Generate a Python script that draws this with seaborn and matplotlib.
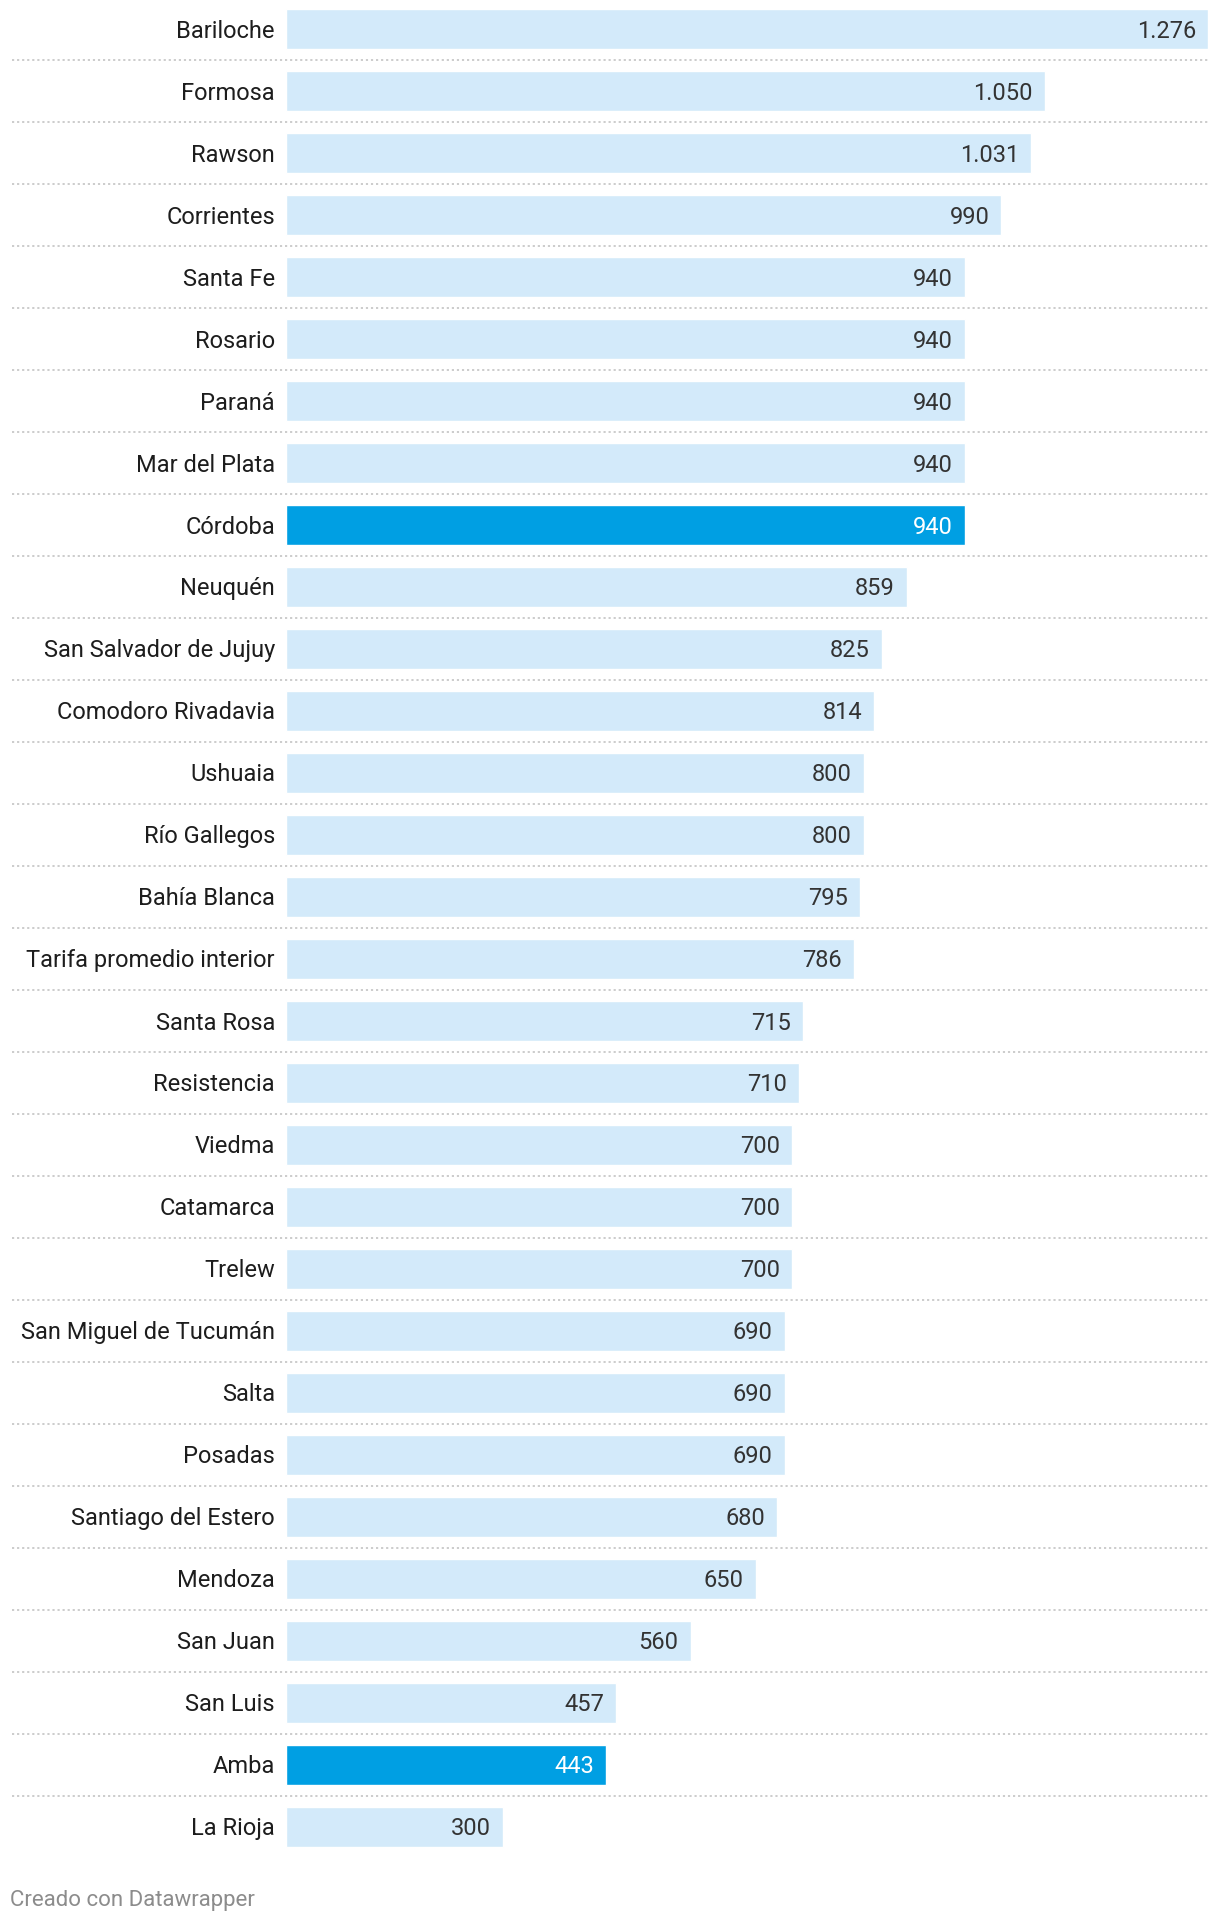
import matplotlib
matplotlib.use("Agg")
import matplotlib.pyplot as plt
import matplotlib.transforms as mtransforms
import seaborn as sns
import pandas as pd

cities = ["Bariloche", "Formosa", "Rawson", "Corrientes", "Santa Fe", "Rosario", "Paraná",
          "Mar del Plata", "Córdoba", "Neuquén", "San Salvador de Jujuy", "Comodoro Rivadavia",
          "Ushuaia", "Río Gallegos", "Bahía Blanca", "Tarifa promedio interior", "Santa Rosa",
          "Resistencia", "Viedma", "Catamarca", "Trelew", "San Miguel de Tucumán", "Salta",
          "Posadas", "Santiago del Estero", "Mendoza", "San Juan", "San Luis", "Amba", "La Rioja"]
values = [1276, 1050, 1031, 990, 940, 940, 940, 940, 940, 859, 825, 814, 800, 800, 795, 786,
          715, 710, 700, 700, 700, 690, 690, 690, 680, 650, 560, 457, 443, 300]
highlighted = ["Córdoba", "Amba"]
footer = "Creado con Datawrapper"

LIGHT = "#d3eafa"
DARK = "#009fe3"

df = pd.DataFrame({"city": cities, "value": values})
df["hl"] = df["city"].isin(highlighted).map({True: "yes", False: "no"})

sns.set_theme(style="white")
plt.rcParams["font.family"] = ["Roboto", "DejaVu Sans"]

W, H = 1220, 1924
fig = plt.figure(figsize=(W / 100, H / 100), dpi=100)
left_px, right_px = 286, 1208
top_px, bot_px = 0, 1859
ax = fig.add_axes([left_px / W, 1 - bot_px / H, (right_px - left_px) / W, (bot_px - top_px) / H])

sns.barplot(data=df, x="value", y="city", hue="hl", palette={"no": LIGHT, "yes": DARK},
            dodge=False, legend=False, width=40 / 62, orient="h", ax=ax, saturation=1)

n = len(cities)
ax.set_xlim(0, max(values))
ax.set_ylim(n - 0.5, -0.5 + 1 / 62)
for s in ax.spines.values():
    s.set_visible(False)
ax.set_xticks([])
ax.set_xlabel("")
ax.set_ylabel("")
ax.tick_params(axis="y", length=0, pad=8, labelsize=17, labelcolor="#1d1d1d")
up = mtransforms.ScaledTranslation(0, 1.5 / 100, fig.dpi_scale_trans)
for t in ax.get_yticklabels():
    t.set_verticalalignment("center_baseline")
    t.set_transform(t.get_transform() + up)

xmin_frac = (12 - left_px) / (right_px - left_px)
for i in range(n - 1):
    ax.axhline(i + 0.5, xmin=xmin_frac, xmax=1, color="#c8c8c8", lw=1.3,
               ls=(0, (1.2, 1.6)), clip_on=False, zorder=0)

pad = 12 / (right_px - left_px) * max(values)
for i, (c, v) in enumerate(zip(cities, values)):
    label = f"{v:,}".replace(",", ".")
    col = "white" if c in highlighted else "#333333"
    ax.text(v - pad, i, label, ha="right", va="center_baseline", fontsize=17, color=col,
            transform=ax.transData + up)

fig.text(10 / W, 1 - 1898 / H, footer, ha="left", va="center_baseline", fontsize=16, color="#8c8c8c")

fig.savefig("out.png", dpi=100, facecolor="white")
